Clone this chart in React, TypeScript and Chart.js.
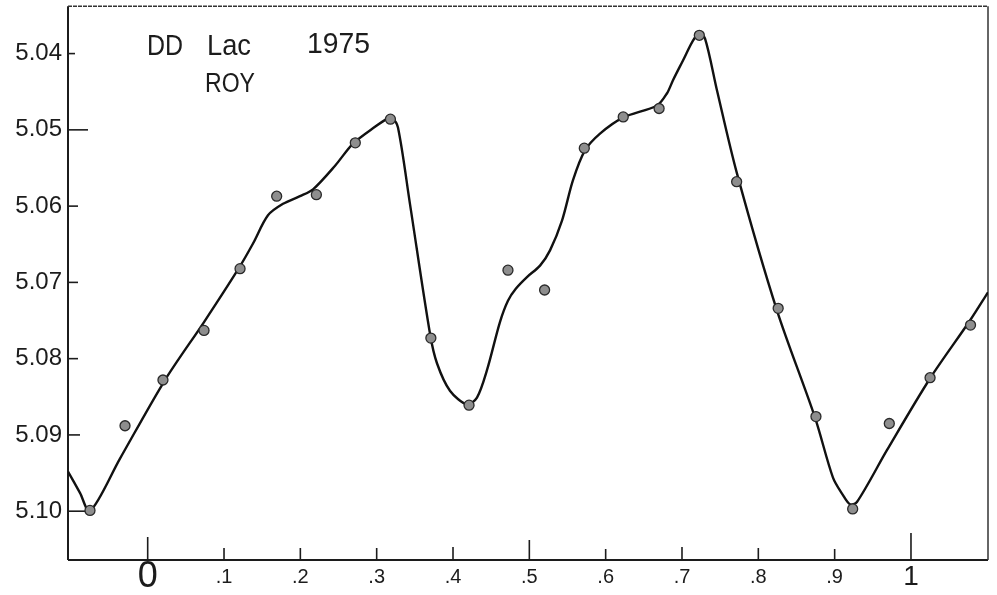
import React, { useEffect, useRef } from "react";
import { Chart, registerables } from "chart.js";

Chart.register(...registerables);

// DD Lac, 1975 — observed magnitudes against phase
const obsPhase = [
  -0.0756, -0.0297, 0.020, 0.0738, 0.121, 0.169, 0.221, 0.272, 0.318, 0.371, 0.421, 0.472,
  0.520, 0.572, 0.623, 0.670, 0.7227, 0.7716, 0.826, 0.8755, 0.9236, 0.9716, 1.025, 1.078,
];
const obsMag = [
  5.0999, 5.0888, 5.0828, 5.0763, 5.0682, 5.0587, 5.0585, 5.0517, 5.0486, 5.0773, 5.0861, 5.0684,
  5.0710, 5.0524, 5.0483, 5.0472, 5.0376, 5.0568, 5.0734, 5.0876, 5.0997, 5.0885, 5.0825, 5.0756,
];

// Hand-faired mean light curve through the observations
const curvePhase = [
  -0.1044, -0.0887, -0.0756, -0.0363, 0.0227, 0.0738, 0.1196, 0.138, 0.1576, 0.1773, 0.1995, 0.2166,
  0.2455, 0.269, 0.2978, 0.3148, 0.3201, 0.3279, 0.3436, 0.3698, 0.379, 0.396, 0.4183, 0.4314,
  0.4445, 0.4615, 0.472, 0.4825, 0.4969, 0.514, 0.5271, 0.5428, 0.5572, 0.5729, 0.5926, 0.6227,
  0.6673, 0.6804, 0.6882, 0.7013, 0.7144, 0.7223, 0.7301, 0.7458, 0.772, 0.8245, 0.8742, 0.8978,
  0.9109, 0.9201, 0.9292, 0.9685, 1.0249, 1.0773, 1.1009,
];
const curveMag = [
  5.0948, 5.0976, 5.1, 5.0931, 5.0828, 5.0752, 5.0681, 5.0649, 5.0612, 5.0597, 5.0587, 5.0578,
  5.0547, 5.0518, 5.0496, 5.0485, 5.0484, 5.0497, 5.0597, 5.0767, 5.0806, 5.0842, 5.086, 5.0851,
  5.0815, 5.0752, 5.0724, 5.0708, 5.0693, 5.0678, 5.0658, 5.0619, 5.0566, 5.0527, 5.0505, 5.0484,
  5.0468, 5.0452, 5.0435, 5.0409, 5.0383, 5.0374, 5.038, 5.0448, 5.0557, 5.0737, 5.0877, 5.0956,
  5.0979, 5.0991, 5.0988, 5.092, 5.0826, 5.075, 5.0713,
];

const xTickValues = [0, 0.1, 0.2, 0.3, 0.4, 0.5, 0.6, 0.7, 0.8, 0.9, 1];
const xTickLabels = ["0", ".1", ".2", ".3", ".4", ".5", ".6", ".7", ".8", ".9", "1"];
const yTickValues = [5.04, 5.05, 5.06, 5.07, 5.08, 5.09, 5.1];
const yTickLabels = ["5.04", "5.05", "5.06", "5.07", "5.08", "5.09", "5.10"];

const X_MIN = -0.1044;
const X_MAX = 1.1009;
const Y_MIN = 5.0338;
const Y_MAX = 5.1064;

const INK = "#1c1c1c";
const FONT = "'Liberation Sans', Arial, sans-serif";

// tick mark lengths (px), drawn inward from the axes
const xTickLen = [23, 12, 12, 12, 13, 20, 11, 13, 12, 11, 27];
const yTickLen = [7, 20, 10, 10, 10, 12, 20];

const framePlugin = {
  id: "frame",
  beforeDatasetsDraw(chart: any) {
    const { ctx, chartArea: a, scales } = chart;
    const seg = (x1: number, y1: number, x2: number, y2: number) => {
      ctx.beginPath();
      ctx.moveTo(x1, y1);
      ctx.lineTo(x2, y2);
      ctx.stroke();
    };
    ctx.save();
    ctx.strokeStyle = INK;
    ctx.lineCap = "butt";
    ctx.lineWidth = 2;
    seg(a.left, a.top, a.left, a.bottom);
    seg(a.left, a.bottom, a.right, a.bottom);
    ctx.lineWidth = 1.5;
    ctx.strokeStyle = "#333";
    seg(a.right, a.top, a.right, a.bottom);
    ctx.setLineDash([4, 1]);
    seg(a.left, a.top, a.right, a.top);
    ctx.setLineDash([]);
    ctx.strokeStyle = INK;
    ctx.lineWidth = 1.6;
    yTickValues.forEach((v, i) => {
      const y = scales.y.getPixelForValue(v);
      seg(a.left, y, a.left + yTickLen[i], y);
    });
    xTickValues.forEach((v, i) => {
      const x = scales.x.getPixelForValue(v);
      seg(x, a.bottom, x, a.bottom - xTickLen[i]);
    });
    ctx.restore();
  },
  afterDraw(chart: any) {
    const { ctx, chartArea: a } = chart;
    ctx.save();
    ctx.fillStyle = INK;
    ctx.textBaseline = "alphabetic";
    ctx.textAlign = "left";
    const put = (t: string, dx: number, dy: number, size: number, w: number) => {
      ctx.font = `${size}px ${FONT}`;
      ctx.fillText(t, a.left + dx, a.top + dy, w);
    };
    put("DD", 79, 49, 30, 36);
    put("Lac", 139, 49, 30, 44);
    put("1975", 239, 47, 30, 63);
    put("ROY", 137, 86, 27, 50);
    ctx.restore();
  },
};

export default function App() {
  const canvasRef = useRef<HTMLCanvasElement | null>(null);

  useEffect(() => {
    const canvas = canvasRef.current;
    if (!canvas) return;

    const points = obsPhase.map((x, i) => ({ x, y: obsMag[i] }));
    const curve = curvePhase.map((x, i) => ({ x, y: curveMag[i] }));

    const chart = new Chart(canvas, {
      type: "scatter",
      data: {
        datasets: [
          {
            label: "observations",
            data: points,
            pointRadius: 5,
            pointHoverRadius: 5,
            backgroundColor: "#8e8e8e",
            borderColor: "#2a2a2a",
            borderWidth: 1.3,
          },
          {
            label: "mean curve",
            data: curve,
            showLine: true,
            pointRadius: 0,
            borderColor: "#111",
            borderWidth: 2.4,
            tension: 0.3,
          } as any,
        ],
      },
      options: {
        responsive: false,
        animation: false,
        devicePixelRatio: 1,
        layout: { padding: { top: 6, right: 9, left: 0, bottom: 0 } },
        plugins: {
          legend: { display: false },
          tooltip: { enabled: false },
        },
        scales: {
          x: {
            type: "linear",
            min: X_MIN,
            max: X_MAX,
            grid: { display: false, drawTicks: false },
            border: { display: false },
            afterBuildTicks: (scale: any) => {
              scale.ticks = xTickValues.map((value) => ({ value }));
            },
            afterFit: (scale: any) => {
              scale.height = 35;
              scale.paddingLeft = 0;
              scale.paddingRight = 0;
            },
            ticks: {
              autoSkip: false,
              maxRotation: 0,
              padding: 4,
              color: INK,
              font: (c: any) => {
                const v = c.tick ? c.tick.value : 0.5;
                const size = v === 0 ? 36 : v === 1 ? 28 : 20;
                return { family: FONT, size, lineHeight: "26px" };
              },
              callback: (value: any) => {
                const i = xTickValues.indexOf(Number(value));
                return i >= 0 ? xTickLabels[i] : "";
              },
            },
          },
          y: {
            type: "linear",
            reverse: true,
            min: Y_MIN,
            max: Y_MAX,
            grid: { display: false, drawTicks: false },
            border: { display: false },
            afterBuildTicks: (scale: any) => {
              scale.ticks = yTickValues.map((value) => ({ value }));
            },
            afterFit: (scale: any) => {
              scale.width = 68;
              scale.paddingTop = 0;
              scale.paddingBottom = 0;
            },
            ticks: {
              autoSkip: false,
              padding: 6,
              color: INK,
              font: { family: FONT, size: 24 },
              callback: (value: any) => {
                const i = yTickValues.findIndex((t) => Math.abs(t - Number(value)) < 1e-6);
                return i >= 0 ? yTickLabels[i] : "";
              },
            },
          },
        },
      },
      plugins: [framePlugin],
    });

    return () => chart.destroy();
  }, []);

  return (
    <div style={{ position: "fixed", left: 0, top: 0, width: 997, height: 595, background: "#fff" }}>
      <canvas ref={canvasRef} width={997} height={595} style={{ display: "block" }} />
    </div>
  );
}
